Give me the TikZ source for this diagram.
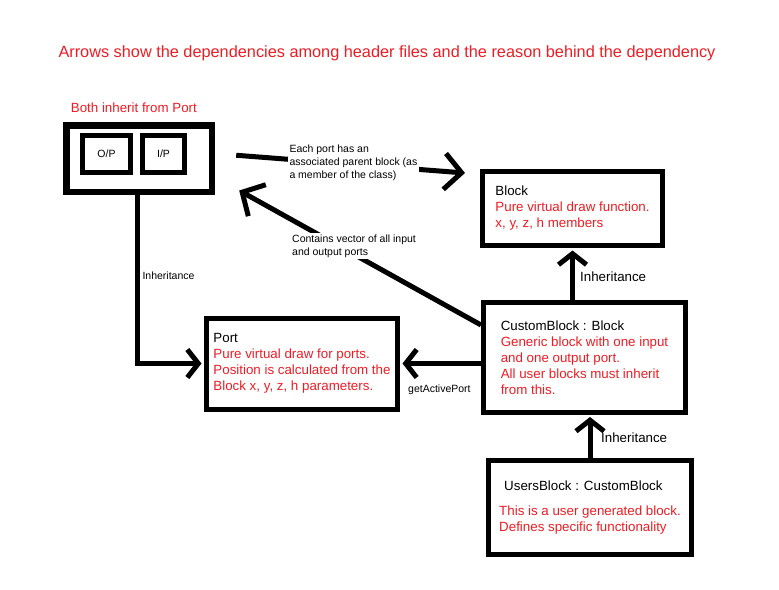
\documentclass[tikz,border=0pt]{standalone}
\usepackage{fontspec}
\setmainfont{Liberation Sans}
\usetikzlibrary{arrows.meta,calc}
\definecolor{paintred}{RGB}{237,28,36}
\newcommand{\rl}[1]{\textcolor{paintred}{#1}}
\pgfdeclarelayer{background}
\pgfsetlayers{background,main}
\tikzset{
   class box/.style={draw,line width=5pt,anchor=north west,align=left,inner sep=0pt,
                     font=\fontsize{13.33}{16}\selectfont},
   port box/.style={draw,line width=5pt,inner sep=0pt,font=\fontsize{10.5}{12.5}\selectfont},
   note/.style={align=left,inner sep=2pt,fill=white,font=\fontsize{10.5}{13}\selectfont},
   small label/.style={inner sep=0pt,font=\fontsize{10.5}{12.5}\selectfont},
   big label/.style={inner sep=0pt,anchor=west,font=\fontsize{13.33}{16}\selectfont},
   conn/.style={line width=5pt,-{Straight Barb[length=11pt,width=28pt]},shorten >=2.5pt},
   note conn/.style={line width=5pt,-{Straight Barb[length=17pt,width=36pt]}}
}
\begin{document}
\begin{tikzpicture}[x=1pt,y=-1pt]
\useasboundingbox (0,0) rectangle (779,589);
\node[anchor=base,text=paintred,inner sep=0pt,font=\fontsize{16.3}{19}\selectfont] (title) at (387,57.3)
  {Arrows show the dependencies among header files and the reason behind the dependency};
%
\node[anchor=base west,text=paintred,inner sep=0pt,font=\fontsize{13.33}{16}\selectfont] (bothnote) at (70.7,112.5) {Both inherit from Port};
\node[draw,line width=6.5pt,anchor=north west,minimum width=145.4pt,minimum height=66.4pt] (ports) at (63.3,122.3) {};
\node[port box,minimum width=48pt,minimum height=37pt] (op) at (106.5,154) {O/P};
\node[port box,minimum width=42pt,minimum height=37pt] (ip) at (163.5,154) {I/P};
%
\node[class box,minimum width=191pt,minimum height=91pt] (port) at (204,315.5)
  {Port\\\rl{Pure virtual draw for ports.}\\\rl{Position is calculated from the}\\\rl{Block x, y, z, h parameters.}};
\node[class box,minimum width=180pt,minimum height=74pt] (block) at (480,169)
  {Block\\\rl{Pure virtual draw function.}\\\rl{x, y, z, h members}};
\node[class box,minimum width=202pt,minimum height=109.5pt] (custom) at (481,300)
  {CustomBlock : Block\\\rl{Generic block with one input}\\\rl{and one output port.}\\\rl{All user blocks must inherit}\\\rl{from this.}};
\node[class box,minimum width=203pt,minimum height=94pt] (users) at (486,458)
  {\hspace*{5pt}UsersBlock : CustomBlock\\[9pt]\rl{This is a user generated block.}\\\rl{Defines specific functionality}};
%
\node[note,anchor=north west] (eachnote) at (287.3,142.3) {Each port has an\\associated parent block (as\\a member of the class)};
\node[note,anchor=north west] (vectornote) at (290,232.3) {Contains vector of all input\\and output ports};
\node[small label] (inhleft) at (168.5,276) {Inheritance};
\node[small label,anchor=west] (activeport) at (408,389.5) {getActivePort};
\node[big label] (inhblock) at (580,277) {Inheritance};
\node[big label] (inhcustom) at (601,438) {Inheritance};
%
\draw[conn] ($ (ports.south) + (-2,0) $) |- (port.west);
\draw[conn] (custom.west |- port.west) -- (port.east);
\draw[conn] (custom.north -| block.south) -- (block.south);
\draw[conn] (users.north) -- (users.north |- custom.south);
\begin{pgfonlayer}{background}
\draw[note conn] ($ (ports.east) + (21,-3.5) $) -- ($ (block.north west) + (-15,4) $);
\draw[note conn] ($ (custom.north west) + (0,25) $) -- ($ (ports.south east) + (24,-4.7) $);
\end{pgfonlayer}
\end{tikzpicture}
\end{document}
